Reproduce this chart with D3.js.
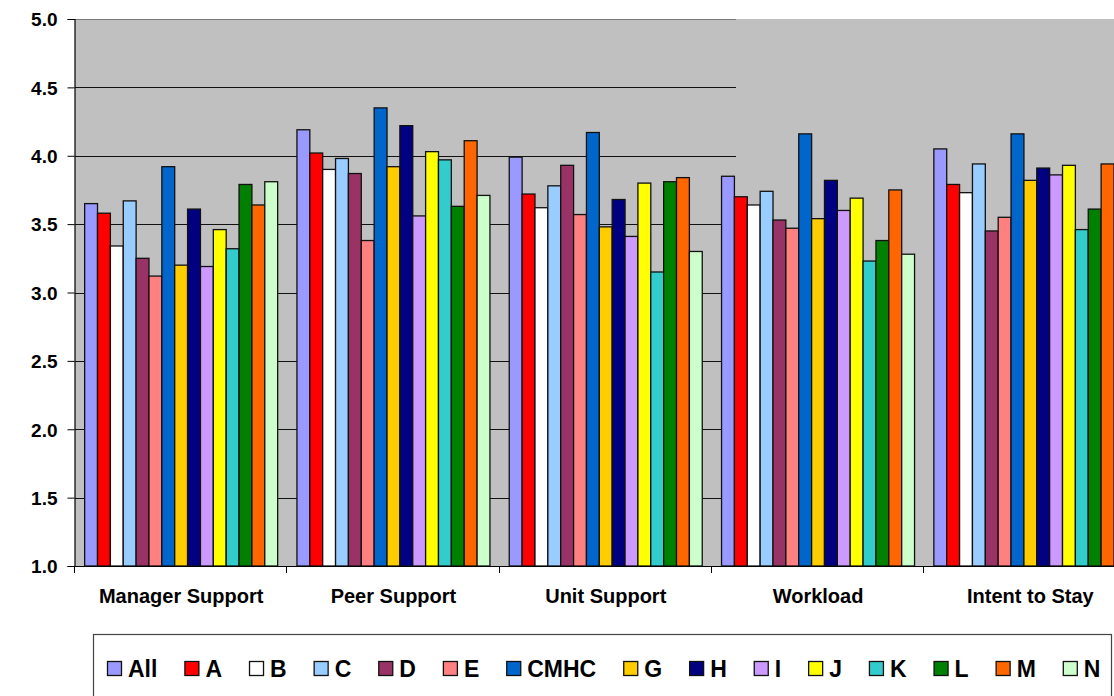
<!DOCTYPE html>
<html>
<head>
<meta charset="utf-8">
<script src="https://cdn.jsdelivr.net/npm/d3@7"></script>
<style>
  html, body { margin: 0; padding: 0; background: #fff; }
  svg { display: block; font-family: "Liberation Sans", Arial, sans-serif; font-weight: bold; }
</style>
</head>
<body>
<svg id="chart" width="1114" height="696"></svg>
<script>
// Survey dimensions (x-axis groups)
const categories = ["Manager Support", "Peer Support", "Unit Support", "Workload", "Intent to Stay"];

// Units / groups shown as bars in each dimension
const series = ["All", "A", "B", "C", "D", "E", "CMHC", "G", "H", "I", "J", "K", "L", "M", "N"];

const seriesColors = ["#9999FF", "#FF0000", "#FFFFFF", "#99CCFF", "#993366", "#FF8080", "#0066CC",
                      "#FFCC00", "#000080", "#CC99FF", "#FFFF00", "#33CCCC", "#008000", "#FF6600", "#CCFFCC"];

// Mean scores, one array per dimension, in series order
const managerSupport = [3.65, 3.58, 3.34, 3.67, 3.25, 3.12, 3.92, 3.20, 3.61, 3.19, 3.46, 3.32, 3.79, 3.64, 3.81];
const peerSupport    = [4.19, 4.02, 3.90, 3.98, 3.87, 3.38, 4.35, 3.92, 4.22, 3.56, 4.03, 3.97, 3.63, 4.11, 3.71];
const unitSupport    = [3.99, 3.72, 3.62, 3.78, 3.93, 3.57, 4.17, 3.48, 3.68, 3.41, 3.80, 3.15, 3.81, 3.84, 3.30];
const workload       = [3.85, 3.70, 3.64, 3.74, 3.53, 3.47, 4.16, 3.54, 3.82, 3.60, 3.69, 3.23, 3.38, 3.75, 3.28];
const intentToStay   = [4.05, 3.79, 3.73, 3.94, 3.45, 3.55, 4.16, 3.82, 3.91, 3.86, 3.93, 3.46, 3.61, 3.94, null];

const yTicks = [1.0, 1.5, 2.0, 2.5, 3.0, 3.5, 4.0, 4.5, 5.0];

const valuesByCategory = [managerSupport, peerSupport, unitSupport, workload, intentToStay];

const svg = d3.select("#chart");

const plot = { left: 75, top: 19, bottom: 566, groupWidth: 212.3 };
const plotRight = plot.left + plot.groupWidth * categories.length;
const gridRight = 736;

const x0 = d3.scaleBand()
  .domain(categories)
  .range([plot.left, plotRight])
  .paddingInner(0).paddingOuter(0);

const x1 = d3.scaleBand()
  .domain(series)
  .range([0, x0.bandwidth()])
  .paddingInner(0).paddingOuter(0.75);

const y = d3.scaleLinear().domain([1, 5]).range([plot.bottom, plot.top]);

// plot background
svg.append("rect")
  .attr("x", plot.left).attr("y", plot.top)
  .attr("width", 1114 - plot.left).attr("height", plot.bottom - plot.top)
  .attr("fill", "#C0C0C0");

// horizontal grid lines
svg.append("g")
  .selectAll("line")
  .data(yTicks.filter(t => t > 1))
  .join("line")
  .attr("x1", plot.left).attr("x2", gridRight)
  .attr("y1", d => Math.round(y(d)) + 0.5).attr("y2", d => Math.round(y(d)) + 0.5)
  .attr("stroke", d => d === 5 ? "#7a7a7a" : "#111")
  .attr("stroke-width", 1.2);

// bars
const rows = [];
categories.forEach((c, ci) => {
  series.forEach((s, si) => {
    const v = valuesByCategory[ci][si];
    if (v != null) rows.push({ cat: c, s, si, v });
  });
});

svg.append("g")
  .selectAll("rect")
  .data(rows)
  .join("rect")
  .attr("x", d => x0(d.cat) + x1(d.s))
  .attr("y", d => y(d.v))
  .attr("width", x1.bandwidth())
  .attr("height", d => y(1) - y(d.v))
  .attr("fill", d => seriesColors[d.si])
  .attr("stroke", "#111")
  .attr("stroke-width", 1.3);

// y axis
const yAxis = d3.axisLeft(y)
  .tickValues(yTicks)
  .tickFormat(d3.format(".1f"))
  .tickSize(7)
  .tickPadding(10);

const gy = svg.append("g")
  .attr("transform", `translate(${plot.left - 0.5},0)`)
  .call(yAxis);
gy.select(".domain").attr("stroke", "#000").attr("stroke-width", 1.2);
gy.selectAll(".tick line").attr("stroke", "#000");
gy.selectAll(".tick text")
  .attr("font-family", "Liberation Sans, Arial, sans-serif")
  .attr("font-weight", "bold")
  .attr("font-size", 19)
  .attr("fill", "#000")
  .attr("dy", "0.36em");

// x axis: tick marks at group boundaries, labels centered in each group
const gx = svg.append("g");
gx.append("line")
  .attr("x1", plot.left - 0.5).attr("x2", 1114)
  .attr("y1", plot.bottom + 0.5).attr("y2", plot.bottom + 0.5)
  .attr("stroke", "#000").attr("stroke-width", 1.2);
gx.selectAll("line.tick")
  .data(categories)
  .join("line")
  .attr("class", "tick")
  .attr("x1", d => Math.round(x0(d)) - 0.5).attr("x2", d => Math.round(x0(d)) - 0.5)
  .attr("y1", plot.bottom).attr("y2", plot.bottom + 7)
  .attr("stroke", "#000");
gx.selectAll("text")
  .data(categories)
  .join("text")
  .attr("x", d => x0(d) + x0.bandwidth() / 2)
  .attr("y", 603)
  .attr("text-anchor", "middle")
  .attr("font-size", 20)
  .attr("fill", "#000")
  .text(d => d);

// legend
const legend = svg.append("g");
legend.append("rect")
  .attr("x", 93.5).attr("y", 634.5)
  .attr("width", 1018).attr("height", 80)
  .attr("fill", "#fff")
  .attr("stroke", "#444").attr("stroke-width", 1.2);

let lx = 107;
series.forEach((s, i) => {
  const g = legend.append("g");
  g.append("rect")
    .attr("x", lx + 0.5).attr("y", 661.5)
    .attr("width", 14).attr("height", 14)
    .attr("fill", seriesColors[i])
    .attr("stroke", "#111").attr("stroke-width", 1.3);
  const t = g.append("text")
    .attr("x", lx + 21)
    .attr("y", 677)
    .attr("font-size", 23)
    .attr("fill", "#000")
    .text(s);
  lx += 21 + t.node().getComputedTextLength() + 27;
});
</script>
</body>
</html>
